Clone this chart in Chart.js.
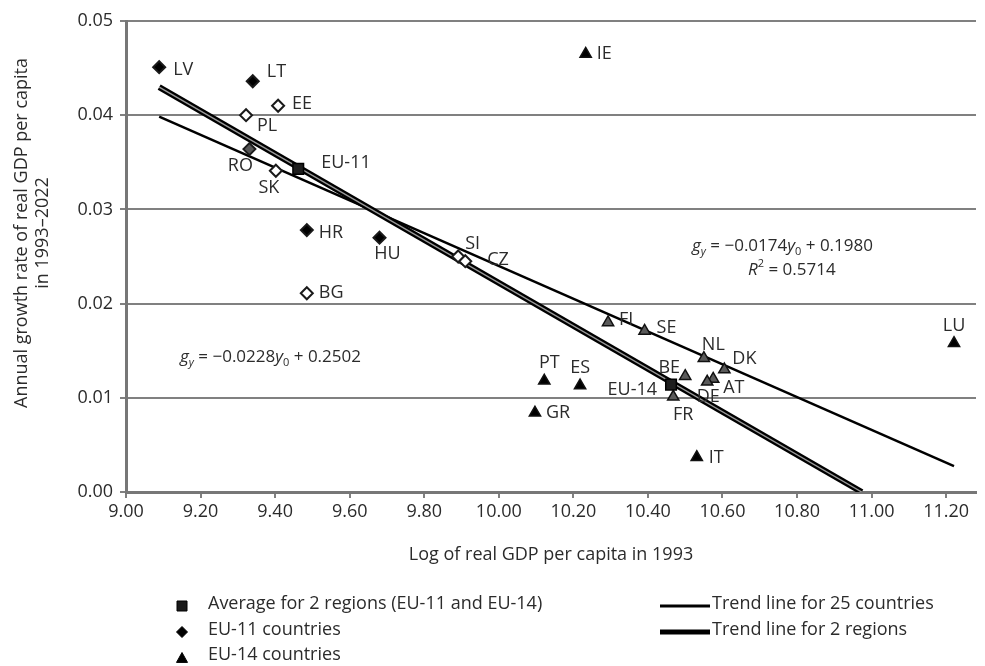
<!DOCTYPE html>
<html>
<head>
<meta charset="utf-8">
<script src="https://cdn.jsdelivr.net/npm/chart.js@4.4.0/dist/chart.umd.min.js"></script>
<style>
  html, body { margin: 0; padding: 0; background: #ffffff; }
  #wrap { width: 985px; height: 666px; position: relative; }
</style>
</head>
<body>
<div id="wrap"><canvas id="chart" width="985" height="666"></canvas></div>
<script>
// ---- data -------------------------------------------------------------
const eu11Names = ['LV', 'LT', 'EE', 'PL', 'RO', 'SK', 'HR', 'HU', 'BG', 'SI', 'CZ'];
const eu11LogGdp = [9.089, 9.340, 9.408, 9.322, 9.331, 9.402, 9.485, 9.680, 9.485, 9.891, 9.910];
const eu11Growth = [0.0451, 0.0436, 0.0410, 0.0400, 0.0364, 0.0341, 0.0278, 0.0270, 0.0211, 0.0250, 0.0245];

const eu14Names = ['IE', 'FI', 'SE', 'NL', 'DK', 'BE', 'AT', 'DE', 'FR', 'PT', 'ES', 'GR', 'IT', 'LU'];
const eu14LogGdp = [10.233, 10.293, 10.391, 10.550, 10.605, 10.500, 10.575, 10.559, 10.468, 10.122, 10.218, 10.097, 10.531, 11.221];
const eu14Growth = [0.0465, 0.0180, 0.0171, 0.0142, 0.0130, 0.0123, 0.0120, 0.0117, 0.0101, 0.0118, 0.0113, 0.0084, 0.0037, 0.0158];

const regionNames = ['EU-11', 'EU-14'];
const regionLogGdp = [9.462, 10.462];
const regionGrowth = [0.0343, 0.0114];

// fitted lines: [slope, intercept]
const trend25Coef = [-0.0174, 0.1980];
const trend25R2 = 0.5714;
const trend2Coef = [-0.0228, 0.2502];

const xTickValues = [9.0, 9.2, 9.4, 9.6, 9.8, 10.0, 10.2, 10.4, 10.6, 10.8, 11.0, 11.2];
const yTickValues = [0.00, 0.01, 0.02, 0.03, 0.04, 0.05];

const xAxisTitle = 'Log of real GDP per capita in 1993';
const yAxisTitle = ['Annual growth rate of real GDP per capita', 'in 1993\u20132022'];
const legendLabels = ['Average for 2 regions (EU-11 and EU-14)', 'EU-11 countries', 'EU-14 countries',
                      'Trend line for 25 countries', 'Trend line for 2 regions'];

// ---- derived series ---------------------------------------------------
const toPoints = (xs, ys) => xs.map((x, i) => ({ x: x, y: ys[i] }));
const allX = eu11LogGdp.concat(eu14LogGdp);
const xMinCountry = Math.min(...allX);
const xMaxCountry = Math.max(...allX);
const lineAt = (coef, x) => coef[0] * x + coef[1];
const trend25Points = [
  { x: xMinCountry, y: lineAt(trend25Coef, xMinCountry) },
  { x: xMaxCountry, y: lineAt(trend25Coef, xMaxCountry) }
];
const trend2Zero = -trend2Coef[1] / trend2Coef[0];
const trend2Points = [
  { x: xMinCountry, y: lineAt(trend2Coef, xMinCountry) },
  { x: trend2Zero, y: 0 }
];

// ---- styling helpers --------------------------------------------------
const FONT = "'Open Sans', 'Noto Sans', sans-serif";
const TEXT = '#2b2b2b';
const GRID = '#808080';
const hollowDiamonds = new Set(['EE', 'PL', 'SK', 'BG', 'SI', 'CZ']);
const greyDiamonds = new Set(['RO']);
const greyTriangles = new Set(['FI', 'SE', 'NL', 'DK', 'BE', 'AT', 'DE', 'FR']);

// where each country name sits relative to its marker: [dx, dy, align]
const labelPlacement = {
  LV: [14, 3, 'left'], LT: [14, -9, 'left'], EE: [14, -2, 'left'], PL: [11, 11, 'left'],
  RO: [-9, 17, 'center'], SK: [-7, 17, 'center'], HR: [12, 3, 'left'], HU: [8, 16, 'center'],
  BG: [12, 0, 'left'], SI: [7, -13, 'left'], CZ: [22, -1, 'left'],
  IE: [11, 0, 'left'], FI: [11, -3, 'left'], SE: [12, -3, 'left'], NL: [-2, -13, 'left'],
  DK: [8, -11, 'left'], BE: [-16, -8, 'center'], AT: [10, 9, 'left'], DE: [1, 15, 'center'],
  FR: [10, 18, 'center'], PT: [5, -18, 'center'], ES: [0, -18, 'center'], GR: [11, 0, 'left'],
  IT: [12, 1, 'left'], LU: [0, -17, 'center'],
  'EU-11': [23, -6, 'left'], 'EU-14': [-14, 5, 'right']
};

// ---- plugins ----------------------------------------------------------
const pointLabels = {
  id: 'pointLabels',
  afterDatasetsDraw(chart) {
    const { ctx, scales: { x, y } } = chart;
    const groups = [
      [eu11Names, eu11LogGdp, eu11Growth],
      [eu14Names, eu14LogGdp, eu14Growth],
      [regionNames, regionLogGdp, regionGrowth]
    ];
    ctx.save();
    ctx.font = '18px ' + FONT;
    ctx.fillStyle = TEXT;
    ctx.textBaseline = 'middle';
    groups.forEach(([names, xs, ys]) => {
      names.forEach((name, i) => {
        const p = labelPlacement[name] || [10, 0, 'left'];
        ctx.textAlign = p[2];
        ctx.fillText(name, x.getPixelForValue(xs[i]) + p[0], y.getPixelForValue(ys[i]) + p[1]);
      });
    });
    ctx.restore();
  }
};

function drawRich(ctx, x, y, parts) {
  let cx = x;
  parts.forEach(part => {
    const size = part.sub || part.sup ? 11 : 17;
    ctx.font = (part.italic ? 'italic ' : '') + size + 'px ' + FONT;
    const dy = part.sub ? 6 : (part.sup ? -6 : 0);
    ctx.fillText(part.t, cx, y + dy);
    cx += ctx.measureText(part.t).width;
  });
}

const fmtCoef = v => (v < 0 ? '\u2212' : '') + Math.abs(v).toFixed(4);

const equations = {
  id: 'equations',
  afterDatasetsDraw(chart) {
    const { ctx } = chart;
    ctx.save();
    ctx.fillStyle = TEXT;
    ctx.textAlign = 'left';
    ctx.textBaseline = 'middle';
    drawRich(ctx, 692, 246, [
      { t: 'g', italic: true }, { t: 'y', italic: true, sub: true },
      { t: ' = ' + fmtCoef(trend25Coef[0]) }, { t: 'y', italic: true }, { t: '0', sub: true },
      { t: ' + ' + trend25Coef[1].toFixed(4) }
    ]);
    drawRich(ctx, 748, 270, [
      { t: 'R', italic: true }, { t: '2', sup: true }, { t: ' = ' + trend25R2.toFixed(4) }
    ]);
    drawRich(ctx, 180, 357, [
      { t: 'g', italic: true }, { t: 'y', italic: true, sub: true },
      { t: ' = ' + fmtCoef(trend2Coef[0]) }, { t: 'y', italic: true }, { t: '0', sub: true },
      { t: ' + ' + trend2Coef[1].toFixed(4) }
    ]);
    ctx.restore();
  }
};

const yTitle = {
  id: 'yTitle',
  afterDraw(chart) {
    const { ctx } = chart;
    ctx.save();
    ctx.fillStyle = TEXT;
    ctx.font = '18px ' + FONT;
    ctx.textAlign = 'center';
    ctx.textBaseline = 'middle';
    [22, 43].forEach((cx, i) => {
      ctx.save();
      ctx.translate(cx, 233);
      ctx.rotate(-Math.PI / 2);
      ctx.fillText(yAxisTitle[i], 0, 0);
      ctx.restore();
    });
    ctx.restore();
  }
};

function marker(ctx, style, x, y, r, fill, stroke) {
  ctx.beginPath();
  if (style === 'rect') {
    ctx.rect(x - r, y - r, 2 * r, 2 * r);
  } else if (style === 'rectRot') {
    ctx.moveTo(x, y - r); ctx.lineTo(x + r, y); ctx.lineTo(x, y + r); ctx.lineTo(x - r, y);
    ctx.closePath();
  } else {
    ctx.moveTo(x, y - r); ctx.lineTo(x + r, y + r * 0.8); ctx.lineTo(x - r, y + r * 0.8);
    ctx.closePath();
  }
  ctx.fillStyle = fill; ctx.fill();
  ctx.strokeStyle = stroke; ctx.lineWidth = 1; ctx.stroke();
}

const bottomLegend = {
  id: 'bottomLegend',
  afterDraw(chart) {
    const { ctx } = chart;
    ctx.save();
    ctx.font = '18px ' + FONT;
    ctx.fillStyle = TEXT;
    ctx.textAlign = 'left';
    ctx.textBaseline = 'middle';
    const rows = [604, 630, 655];
    marker(ctx, 'rect', 182, rows[0] + 2, 5, '#1a1a1a', '#000');
    marker(ctx, 'rectRot', 182, rows[1] + 2, 5.5, '#000', '#000');
    marker(ctx, 'triangle', 182, rows[2] + 3, 5.5, '#000', '#000');
    ctx.fillStyle = TEXT;
    ctx.font = '18px ' + FONT;
    ctx.fillText(legendLabels[0], 208, rows[0]);
    ctx.fillText(legendLabels[1], 208, rows[1]);
    ctx.fillText(legendLabels[2], 208, rows[2]);
    ctx.strokeStyle = '#000';
    ctx.lineWidth = 3;
    ctx.beginPath(); ctx.moveTo(660, rows[0] + 2); ctx.lineTo(710, rows[0] + 2); ctx.stroke();
    ctx.lineWidth = 5;
    ctx.beginPath(); ctx.moveTo(660, rows[1] + 2); ctx.lineTo(710, rows[1] + 2); ctx.stroke();
    ctx.fillText(legendLabels[3], 712, rows[0]);
    ctx.fillText(legendLabels[4], 712, rows[1]);
    ctx.restore();
  }
};

// ---- chart ------------------------------------------------------------
new Chart(document.getElementById('chart'), {
  type: 'scatter',
  data: {
    datasets: [
      {
        label: legendLabels[0],
        data: toPoints(regionLogGdp, regionGrowth),
        pointStyle: 'rect',
        pointRadius: 7.5,
        backgroundColor: '#1e1e1e',
        borderColor: '#000',
        borderWidth: 1.5,
        order: 0
      },
      {
        label: legendLabels[1],
        data: toPoints(eu11LogGdp, eu11Growth),
        pointStyle: 'rectRot',
        pointRadius: 6,
        backgroundColor: ctx => {
          const n = eu11Names[ctx.dataIndex];
          return hollowDiamonds.has(n) ? '#ffffff' : (greyDiamonds.has(n) ? '#555555' : '#000000');
        },
        borderColor: '#1a1a1a',
        borderWidth: 2,
        order: 1
      },
      {
        label: legendLabels[2],
        data: toPoints(eu14LogGdp, eu14Growth),
        pointStyle: 'triangle',
        pointRadius: 6.5,
        backgroundColor: ctx => greyTriangles.has(eu14Names[ctx.dataIndex]) ? '#5a5a5a' : '#000000',
        borderColor: '#111',
        borderWidth: 1.5,
        order: 1
      },
      {
        label: legendLabels[3],
        data: trend25Points,
        showLine: true,
        borderColor: '#000',
        borderWidth: 2.5,
        pointRadius: 0,
        order: 3
      },
      {
        label: legendLabels[4],
        data: trend2Points,
        showLine: true,
        borderColor: '#000',
        borderWidth: 6,
        pointRadius: 0,
        order: 3
      },
      {
        label: legendLabels[4] + ' (inner)',
        data: trend2Points,
        showLine: true,
        borderColor: '#9a9a9a',
        borderWidth: 1.4,
        pointRadius: 0,
        order: 2
      }
    ]
  },
  options: {
    responsive: false,
    animation: false,
    layout: { padding: { left: 0, right: 5, top: 21, bottom: 96 } },
    plugins: {
      legend: { display: false },
      tooltip: { enabled: false }
    },
    scales: {
      x: {
        type: 'linear',
        min: 9.0,
        max: 11.28,
        afterBuildTicks: s => { s.ticks = xTickValues.map(v => ({ value: v })); },
        afterFit: s => { s.height = 78; },
        ticks: {
          includeBounds: false,
          stepSize: 0.2,
          padding: 3,
          color: TEXT,
          font: { family: FONT, size: 18 },
          maxRotation: 0,
          callback: v => Number(v).toFixed(2)
        },
        grid: { drawOnChartArea: false, drawTicks: true, tickLength: 6, color: GRID, lineWidth: 2 },
        border: { display: true, color: '#777777', width: 3 },
        title: {
          display: true,
          text: xAxisTitle,
          color: TEXT,
          font: { family: FONT, size: 18 },
          padding: { top: 20, bottom: 4 }
        }
      },
      y: {
        type: 'linear',
        min: 0,
        max: 0.05,
        afterBuildTicks: s => { s.ticks = yTickValues.map(v => ({ value: v })); },
        afterFit: s => { s.width = 126; },
        ticks: {
          stepSize: 0.01,
          padding: 7,
          color: TEXT,
          font: { family: FONT, size: 18 },
          callback: v => Number(v).toFixed(2)
        },
        grid: { color: GRID, lineWidth: 2, drawTicks: true, tickLength: 6 },
        border: { display: true, color: '#777777', width: 3 }
      }
    }
  },
  plugins: [pointLabels, equations, yTitle, bottomLegend]
});
</script>
</body>
</html>
